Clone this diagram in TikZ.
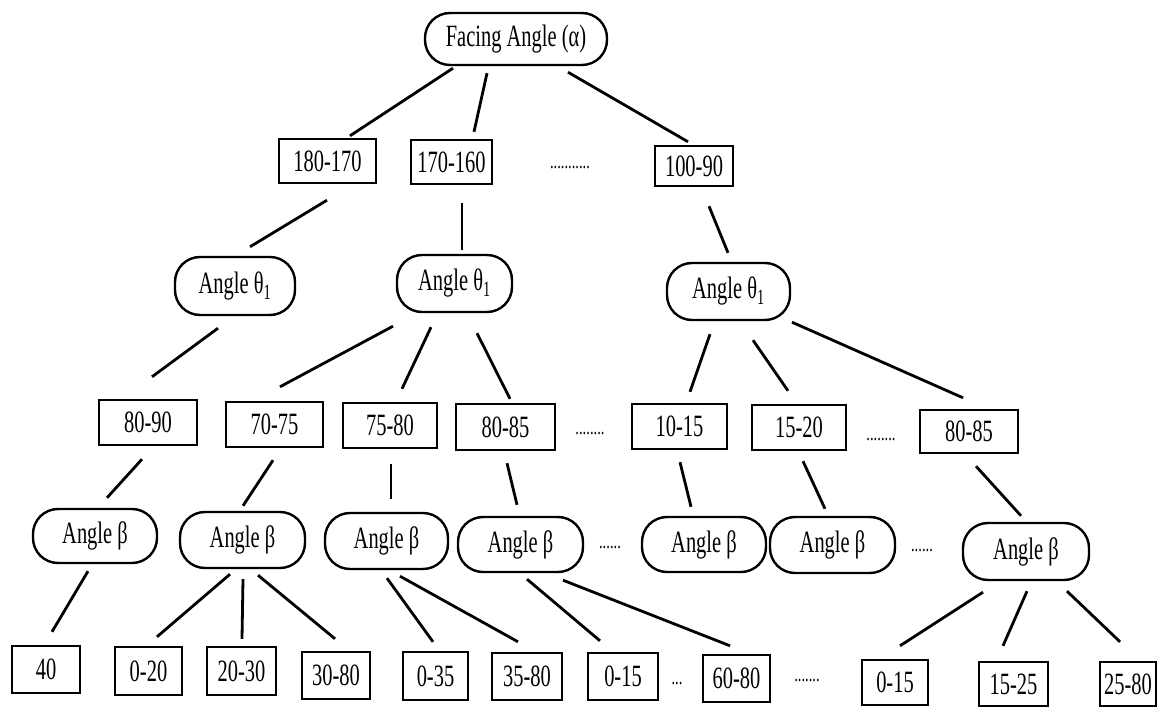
\documentclass[tikz,border=0pt]{standalone}
\usepackage{fontspec}
\setmainfont{Liberation Serif}[FakeStretch=0.66]
\begin{document}
\begin{tikzpicture}[x=1pt,y=-1pt,
  every node/.style={font=\fontsize{31}{33}\selectfont, inner sep=0pt},
  box/.style={draw, line width=2.4pt},
  oval/.style={draw, line width=2.4pt, rounded corners=25pt},
  sz/.style n args={2}{minimum width=#1pt, minimum height=#2pt},
  edge/.style={line width=2.8pt},
  dots/.style={font=\fontsize{22}{24}\selectfont}]
\useasboundingbox (0,0) rectangle (1157,708);
% level 0
\node[oval, sz={182}{52}] (F) at (516,39) {Facing Angle (α)};
% level 1
\node[box, sz={97}{44}] (a1) at (327.5,161) {180-170};
\node[box, sz={81}{44}] (a2) at (451.5,162) {170-160};
\node[box, sz={78}{40}] (a3) at (694,166) {100-90};
\node[dots] (d1) at (570,168) {...........};
% level 2
\node[oval, sz={120}{58}] (t1) at (235,286) {Angle θ\textsubscript{1}};
\node[oval, sz={115}{57}] (t2) at (454.5,283.5) {Angle θ\textsubscript{1}};
\node[oval, sz={123}{57}] (t3) at (728.5,291.5) {Angle θ\textsubscript{1}};
% level 3
\node[box, sz={98}{45}] (b1) at (148,422.5) {80-90};
\node[box, sz={97}{45}] (b2) at (274.5,424.5) {70-75};
\node[box, sz={94}{45}] (b3) at (390,425.5) {75-80};
\node[box, sz={99}{46}] (b4) at (505.5,427) {80-85};
\node[box, sz={95}{45}] (b5) at (679.5,426.5) {10-15};
\node[box, sz={94}{45}] (b6) at (799,427.5) {15-20};
\node[box, sz={98}{43}] (b7) at (969,431.5) {80-85};
\node[dots] (d2) at (590,434) {........};
\node[dots] (d3) at (881,440) {........};
% level 4
\node[oval, sz={124}{54}] (g1) at (95,536) {Angle β};
\node[oval, sz={125}{56}] (g2) at (242.5,540) {Angle β};
\node[oval, sz={123}{56}] (g3) at (386.5,541) {Angle β};
\node[oval, sz={125}{55}] (g4) at (520.5,544.5) {Angle β};
\node[oval, sz={124}{55}] (g5) at (704,544.5) {Angle β};
\node[oval, sz={125}{56}] (g6) at (832.5,545) {Angle β};
\node[oval, sz={126}{57}] (g7) at (1026,551.5) {Angle β};
\node[dots] (d4) at (610,548) {......};
\node[dots] (d5) at (922,551) {......};
% level 5
\node[box, sz={68}{47}] (c1) at (46,669.5) {40};
\node[box, sz={67}{48}] (c2) at (148.5,671) {0-20};
\node[box, sz={69}{48}] (c3) at (241.5,671) {20-30};
\node[box, sz={68}{47}] (c4) at (336,675.5) {30-80};
\node[box, sz={65}{48}] (c5) at (435.5,676) {0-35};
\node[box, sz={70}{47}] (c6) at (527,676.5) {35-80};
\node[box, sz={70}{47}] (c7) at (623,676.5) {0-15};
\node[box, sz={67}{47}] (c8) at (736.5,678.5) {60-80};
\node[box, sz={66}{45}] (c9) at (895,682.5) {0-15};
\node[box, sz={69}{44}] (c10) at (1013.5,684) {15-25};
\node[box, sz={56}{44}] (c11) at (1128,684) {25-80};
\node[dots] (d6) at (677,684) {...};
\node[dots] (d7) at (807,681) {.......};
% connectors level 0-1
\draw[edge] ([shift={(-63,2)}]F.south) -- ([shift={(22.5,-2)}]a1.north);
\draw[edge] ([shift={(-29,7)}]F.south) -- ([shift={(22.5,-7)}]a2.north);
\draw[edge] ([shift={(52,6)}]F.south) -- ([shift={(-6,-3)}]a3.north);
% level 1-2
\draw[edge] ([shift={(-0.5,16)}]a1.south) -- ([shift={(15,-9)}]t1.north);
\draw[edge] ([shift={(10.5,18)}]a2.south) -- ([shift={(7.5,-4)}]t2.north);
\draw[edge] ([shift={(15,19)}]a3.south) -- ([shift={(-0.5,-9)}]t3.north);
% level 2-3
\draw[edge] ([shift={(-17,12)}]t1.south) -- ([shift={(4,-22)}]b1.north);
\draw[edge] ([shift={(-61.5,13)}]t2.south) -- ([shift={(5.5,-14)}]b2.north);
\draw[edge] ([shift={(-23.5,14)}]t2.south) -- ([shift={(12,-13)}]b3.north);
\draw[edge] ([shift={(22.5,20)}]t2.south) -- ([shift={(4.5,-4)}]b4.north);
\draw[edge] ([shift={(-18.5,13)}]t3.south) -- ([shift={(10.5,-11)}]b5.north);
\draw[edge] ([shift={(24.5,19)}]t3.south) -- ([shift={(-11,-13)}]b6.north);
\draw[edge] ([shift={(63.5,1)}]t3.south) -- ([shift={(-6,-11)}]b7.north);
% level 3-4
\draw[edge] ([shift={(-6,13)}]b1.south) -- ([shift={(12,-10)}]g1.north);
\draw[edge] ([shift={(-1.5,12)}]b2.south) -- ([shift={(0.5,-5)}]g2.north);
\draw[edge] ([shift={(1,15)}]b3.south) -- ([shift={(4.5,-13)}]g3.north);
\draw[edge] ([shift={(1.5,12)}]b4.south) -- ([shift={(-3.5,-11)}]g4.north);
\draw[edge] ([shift={(0.5,12)}]b5.south) -- ([shift={(-13,-9)}]g5.north);
\draw[edge] ([shift={(4,10)}]b6.south) -- ([shift={(-7.5,-7)}]g6.north);
\draw[edge] ([shift={(7,12)}]b7.south) -- ([shift={(-5,-6)}]g7.north);
% level 4-5
\draw[edge] ([shift={(-7,7)}]g1.south) -- ([shift={(6,-13)}]c1.north);
\draw[edge] ([shift={(-12.5,5)}]g2.south) -- ([shift={(8.5,-9)}]c2.north);
\draw[edge] ([shift={(0.5,10)}]g2.south) -- ([shift={(0.5,-7)}]c3.north);
\draw[edge] ([shift={(15.5,6)}]g2.south) -- ([shift={(-1,-12)}]c4.north);
\draw[edge] ([shift={(0.5,8)}]g3.south) -- ([shift={(-2.5,-9)}]c5.north);
\draw[edge] ([shift={(13.5,6)}]g3.south) -- ([shift={(-9,-10)}]c6.north);
\draw[edge] ([shift={(6.5,6)}]g4.south) -- ([shift={(-23,-11)}]c7.north);
\draw[edge] ([shift={(42.5,7)}]g4.south) -- ([shift={(-6.5,-8)}]c8.north);
\draw[edge] ([shift={(-43,11)}]g7.south) -- ([shift={(5,-13)}]c9.north);
\draw[edge] ([shift={(1,10)}]g7.south) -- ([shift={(-10.5,-15)}]c10.north);
\draw[edge] ([shift={(41,10)}]g7.south) -- ([shift={(-8,-19)}]c11.north);
\end{tikzpicture}
\end{document}
